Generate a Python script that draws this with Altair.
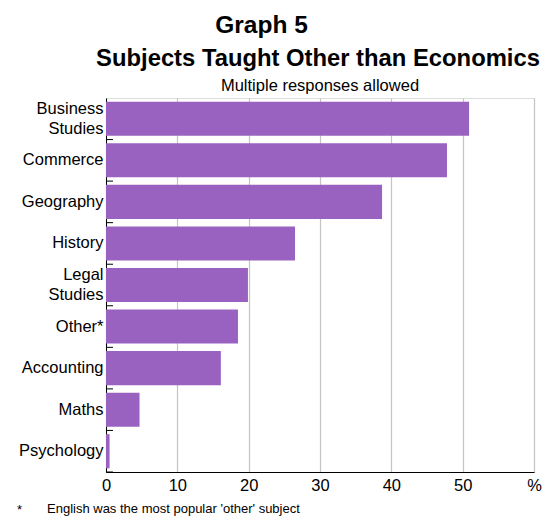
import altair as alt
import pandas as pd

subjects = ["Business Studies", "Commerce", "Geography", "History", "Legal Studies",
            "Other*", "Accounting", "Maths", "Psychology"]
percent = [50.9, 47.8, 38.7, 26.5, 19.9, 18.5, 16.1, 4.7, 0.5]
x_ticks = [0, 10, 20, 30, 40, 50, 60]

df = pd.DataFrame({"subject": subjects, "pct": percent})
FONT = "Liberation Sans"
W, H = 428, 374

label_expr = ("datum.label == 'Business Studies' ? ['Business', 'Studies'] : "
              "datum.label == 'Legal Studies' ? ['Legal', 'Studies'] : datum.label")
two_line = "datum.label == 'Business Studies' || datum.label == 'Legal Studies'"

bars = alt.Chart(df).mark_bar(color="#9a62c0").encode(
    x=alt.X("pct:Q", scale=alt.Scale(domain=[0, 60], nice=False),
            axis=alt.Axis(values=x_ticks, title=None, ticks=False, grid=True,
                          gridColor="#c4c4c4", gridWidth=1.2,
                          labelExpr="datum.value == 60 ? '%' : datum.label",
                          labelFont=FONT, labelFontSize=16.5, labelColor="black",
                          labelPadding=5, domainColor="black", labelFlush=False)),
    y=alt.Y("subject:N", sort=subjects,
            scale=alt.Scale(paddingInner=0.18, paddingOuter=0.09),
            axis=alt.Axis(title=None, ticks=False, labelExpr=label_expr,
                          labelFont=FONT, labelFontSize=16.5, labelColor="black",
                          labelLineHeight=20,
                          labelOffset={"condition": {"test": two_line, "value": -10}, "value": 0},
                          labelPadding=3, domainColor="black")),
)

ticks = alt.Chart(df).mark_rule(color="black", strokeWidth=1).encode(
    y=alt.Y("subject:N", sort=subjects, bandPosition=1,
            scale=alt.Scale(paddingInner=0, paddingOuter=0), axis=None),
    x=alt.value(0), x2=alt.value(7),
)


def label(text, size, weight, align, x, y):
    return alt.Chart(pd.DataFrame({"t": [text]})).mark_text(
        font=FONT, fontSize=size, fontWeight=weight, align=align,
        baseline="alphabetic", color="black").encode(
        text="t:N", x=alt.value(x), y=alt.value(y))


graph_no = label("Graph 5", 24.5, "bold", "center", 155.5, -65)
title = label("Subjects Taught Other than Economics", 23.8, "bold", "center", 212, -32)
subtitle = label("Multiple responses allowed", 16.5, "normal", "center", 214, -7)
star = label("*", 13, "normal", "left", -89, 416)
note = label("English was the most popular 'other' subject", 13, "normal", "left", -59, 414.5)

chart = alt.layer(bars, ticks, graph_no, title, subtitle, star, note).resolve_scale(
    y="independent").properties(
    width=W, height=H,
    autosize=alt.AutoSizeParams(type="none"),
    padding={"left": 98, "top": 90, "right": 10, "bottom": 44},
).configure_view(stroke="black", strokeWidth=1).configure(background="white")

chart.save("out.html", embed_options={"renderer": "svg", "actions": False})
